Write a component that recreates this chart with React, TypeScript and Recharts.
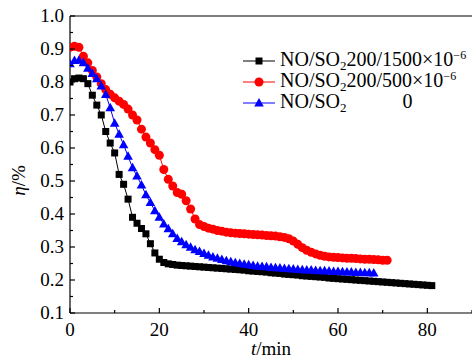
import { LineChart, Line, XAxis, YAxis, ReferenceLine } from "recharts";

// sampling interval of the measurements, minutes
const STEP_MIN = 1;

// NO/SO2 200/1500×10^-6 (black squares)
const etaHighSo2 = [
	0.8, 0.81, 0.812, 0.81, 0.795, 0.76, 0.73, 0.7, 0.65, 0.615, 0.585, 0.52, 0.49, 0.445, 0.39, 0.372,
	0.356, 0.34, 0.31, 0.282, 0.263, 0.253, 0.249, 0.247, 0.245, 0.244, 0.243, 0.242, 0.241, 0.24, 0.239,
	0.238, 0.237, 0.236, 0.235, 0.234, 0.233, 0.232, 0.231, 0.23, 0.228, 0.227, 0.226, 0.225, 0.224,
	0.222, 0.221, 0.22, 0.218, 0.217, 0.216, 0.215, 0.213, 0.212, 0.211, 0.21, 0.209, 0.208, 0.206,
	0.205, 0.204, 0.203, 0.202, 0.201, 0.2, 0.199, 0.198, 0.197, 0.196, 0.195, 0.194, 0.193, 0.192,
	0.191, 0.19, 0.189, 0.188, 0.187, 0.186, 0.185, 0.184, 0.183,
];

// NO/SO2 200/500×10^-6 (red circles)
const etaLowSo2 = [
	0.905, 0.908, 0.905, 0.878, 0.858, 0.835, 0.815, 0.795, 0.777, 0.763, 0.752, 0.742, 0.732, 0.718,
	0.7, 0.685, 0.657, 0.633, 0.615, 0.595, 0.578, 0.535, 0.505, 0.485, 0.465, 0.46, 0.44, 0.415, 0.385,
	0.368, 0.362, 0.357, 0.354, 0.35, 0.348, 0.345, 0.343, 0.342, 0.341, 0.34, 0.339, 0.338, 0.337,
	0.336, 0.335, 0.334, 0.333, 0.331, 0.329, 0.325, 0.318, 0.308, 0.298, 0.29, 0.284, 0.279, 0.275,
	0.272, 0.27, 0.269, 0.268, 0.267, 0.266, 0.266, 0.265, 0.264, 0.263, 0.263, 0.262, 0.261, 0.26, 0.26,
];

// NO/SO2 0 (blue triangles)
const etaNoSo2 = [
	0.855, 0.865, 0.866, 0.858, 0.842, 0.826, 0.81, 0.788, 0.762, 0.722, 0.675, 0.642, 0.61, 0.575, 0.54,
	0.515, 0.488, 0.458, 0.435, 0.41, 0.39, 0.37, 0.355, 0.34, 0.326, 0.316, 0.307, 0.299, 0.292, 0.286,
	0.28, 0.275, 0.27, 0.266, 0.262, 0.258, 0.255, 0.252, 0.25, 0.248, 0.246, 0.244, 0.242, 0.241, 0.24,
	0.238, 0.237, 0.236, 0.235, 0.234, 0.233, 0.232, 0.231, 0.23, 0.23, 0.229, 0.228, 0.228, 0.227,
	0.226, 0.226, 0.225, 0.224, 0.224, 0.223, 0.223, 0.222, 0.222, 0.221,
];

const xTicks = [0, 10, 20, 30, 40, 50, 60, 70, 80, 90];
const yTicks = [0.1, 0.15, 0.2, 0.25, 0.3, 0.35, 0.4, 0.45, 0.5, 0.55, 0.6, 0.65, 0.7, 0.75, 0.8, 0.85, 0.9, 0.95, 1.0];

const toPoints = (vals: number[]) => vals.map((eta, i) => ({ t: i * STEP_MIN, eta }));

const FONT = "Liberation Serif, Times New Roman, serif";

const XTick = (p: any) => {
	const { x, y, payload } = p;
	const major = payload.value % 20 === 0;
	return (
		<g>
			<line x1={x} x2={x} y1={y} y2={y - (major ? 5 : 3)} stroke="#000" strokeWidth={1.2} />
			{major && (
				<text x={x} y={y + 23} textAnchor="middle" fontFamily={FONT} fontSize={19} fill="#000">
					{payload.value}
				</text>
			)}
		</g>
	);
};

const YTick = (p: any) => {
	const { x, y, payload } = p;
	const major = Math.round(payload.value * 100) % 10 === 0;
	return (
		<g>
			<line x1={x} x2={x + (major ? 5 : 3)} y1={y} y2={y} stroke="#000" strokeWidth={1.2} />
			{major && (
				<text x={x - 6} y={y + 6} textAnchor="end" fontFamily={FONT} fontSize={19} fill="#000">
					{payload.value.toFixed(1)}
				</text>
			)}
		</g>
	);
};

const square = (p: any) => (
	<rect key={`s${p.index}`} x={p.cx - 3.5} y={p.cy - 3.5} width={7} height={7} fill="#000" />
);
const circle = (p: any) => <circle key={`c${p.index}`} cx={p.cx} cy={p.cy} r={4.5} fill="#ff0000" />;
const triangle = (p: any) => (
	<path
		key={`t${p.index}`}
		d={`M${p.cx},${p.cy - 5} L${p.cx + 4.8},${p.cy + 3.5} L${p.cx - 4.8},${p.cy + 3.5} Z`}
		fill="#0000ff"
	/>
);

const LegendRow = ({ color, marker, children }: any) => (
	<div style={{ display: "flex", alignItems: "center", height: 21, whiteSpace: "nowrap" }}>
		<svg width={33} height={12} style={{ marginRight: 4 }}>
			<line x1={0} x2={32} y1={6} y2={6} stroke={color} strokeWidth={1} />
			{marker}
		</svg>
		<span>{children}</span>
	</div>
);

const sub = { fontSize: 13, position: "relative", top: 4 } as const;
const sup = { fontSize: 12, position: "relative", top: -7 } as const;

const ChartLegend = () => (
	<div
		style={{
			position: "absolute",
			left: 243,
			top: 50,
			fontFamily: FONT,
			fontSize: 20,
			color: "#000",
			lineHeight: "21px",
		}}
	>
		<LegendRow color="#000" marker={<rect x={12.5} y={2.5} width={7} height={7} fill="#000" />}>
			NO/SO<span style={sub}>2</span>200/1500×10<span style={sup}>−6</span>
		</LegendRow>
		<LegendRow color="#ff0000" marker={<circle cx={16} cy={6} r={4.5} fill="#ff0000" />}>
			NO/SO<span style={sub}>2</span>200/500×10<span style={sup}>−6</span>
		</LegendRow>
		<LegendRow color="#0000ff" marker={<path d="M16,1 L20.8,9.5 L11.2,9.5 Z" fill="#0000ff" />}>
			NO/SO<span style={sub}>2</span>
			<span style={{ marginLeft: 56 }}>0</span>
		</LegendRow>
	</div>
);

const YLabel = (p: any) => {
	const cx = 18;
	const cy = p.viewBox.y + p.viewBox.height / 2 + 16;
	return (
		<text
			x={cx}
			y={cy}
			transform={`rotate(-90 ${cx} ${cy})`}
			textAnchor="middle"
			dominantBaseline="central"
			fontFamily={FONT}
			fontSize={19}
		>
			<tspan fontStyle="italic">η</tspan>/%
		</text>
	);
};

const XLabel = (p: any) => {
	const cx = p.viewBox.x + p.viewBox.width / 2;
	return (
		<text x={cx} y={355} textAnchor="middle" fontFamily={FONT} fontSize={19}>
			<tspan fontStyle="italic">t</tspan>/min
		</text>
	);
};

export default function App() {
	return (
		<div style={{ position: "absolute", left: 0, top: 0, width: 472, height: 358, background: "#fff" }}>
			<LineChart width={472} height={358} margin={{ top: 16, right: 0, bottom: 0, left: 10 }}>
				<XAxis
					type="number"
					dataKey="t"
					domain={[0, 90]}
					ticks={xTicks}
					interval={0}
					tickSize={0}
					tickMargin={0}
					tick={<XTick />}
					tickLine={false}
					height={45}
					axisLine={{ stroke: "#000", strokeWidth: 1.2 }}
					label={<XLabel />}
					allowDataOverflow
				/>
				<YAxis
					type="number"
					dataKey="eta"
					domain={[0.1, 1.0]}
					ticks={yTicks}
					interval={0}
					tickSize={0}
					tickMargin={0}
					tick={<YTick />}
					tickLine={false}
					width={60}
					axisLine={{ stroke: "#000", strokeWidth: 1.2 }}
					label={<YLabel />}
					allowDataOverflow
				/>
				<ReferenceLine y={1.0} stroke="#000" strokeWidth={1.2} />
				<Line
					data={toPoints(etaHighSo2)}
					dataKey="eta"
					stroke="#000"
					strokeWidth={1}
					dot={square}
					isAnimationActive={false}
				/>
				<Line
					data={toPoints(etaLowSo2)}
					dataKey="eta"
					stroke="#ff0000"
					strokeWidth={1}
					dot={circle}
					isAnimationActive={false}
				/>
				<Line
					data={toPoints(etaNoSo2)}
					dataKey="eta"
					stroke="#0000ff"
					strokeWidth={1}
					dot={triangle}
					isAnimationActive={false}
				/>
			</LineChart>
			<ChartLegend />
		</div>
	);
}
